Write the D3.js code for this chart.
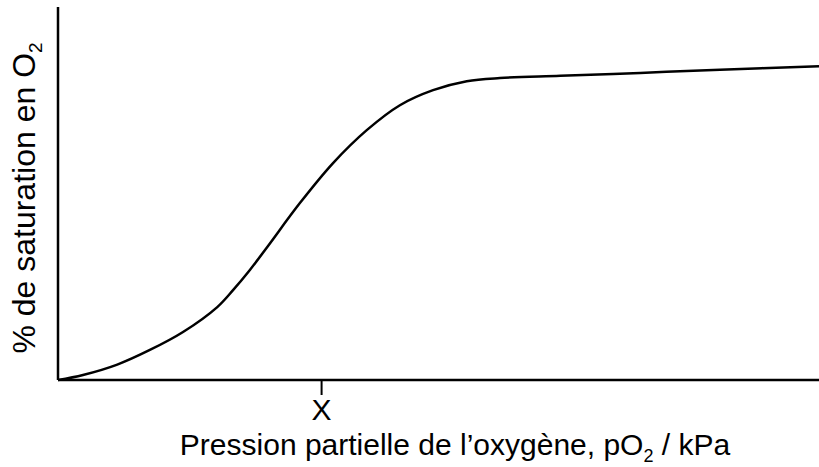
<!DOCTYPE html>
<html>
<head>
<meta charset="utf-8">
<script src="https://cdn.jsdelivr.net/npm/d3@7"></script>
<style>
  html, body { margin: 0; padding: 0; background: #fff; }
  svg { display: block; font-family: "Liberation Sans", Arial, sans-serif; }
</style>
</head>
<body>
<svg id="chart" width="819" height="467"></svg>
<script>
// Data (pO2 in arbitrary kPa units, saturation in %)
const pO2 = [0, 0.46, 1.09, 1.69, 2.30, 2.93, 3.22, 3.53, 3.85, 4.45, 5.06, 5.68, 6.29, 6.90, 7.52, 8.13, 9.24, 10.71, 12.18, 14];
const saturation = [0, 1.56, 4.81, 9.38, 15, 22.8, 28.1, 34.4, 41.6, 55.3, 67.8, 78.1, 85.9, 90.6, 93.4, 94.4, 95.1, 96.0, 97.0, 98.1];
const xTicks = [4.84];
const xTickLabels = ["X"];
const xDomain = [0, 14];
const yDomain = [0, 116.6];

const svg = d3.select("#chart");
const x = d3.scaleLinear().domain(xDomain).range([58, 819]);
const y = d3.scaleLinear().domain(yDomain).range([380, 7]);

// Curve
const line = d3.line()
  .x((d, i) => x(pO2[i]))
  .y((d, i) => y(saturation[i]))
  .curve(d3.curveCatmullRom.alpha(0.5));
svg.append("path")
  .attr("d", line(pO2))
  .attr("fill", "none")
  .attr("stroke", "#000")
  .attr("stroke-width", 2.5);

// Y axis line
svg.append("line")
  .attr("x1", x(0)).attr("x2", x(0))
  .attr("y1", y(yDomain[1])).attr("y2", y(0))
  .attr("stroke", "#000").attr("stroke-width", 2.5);

// X axis
const xAxis = d3.axisBottom(x)
  .tickValues(xTicks)
  .tickSize(15)
  .tickPadding(4)
  .tickFormat((d, i) => xTickLabels[i]);
const gx = svg.append("g").attr("transform", `translate(0,${y(0)})`).call(xAxis);
gx.select(".domain").attr("d", `M${x(0)},0H${x(xDomain[1])}`).attr("stroke-width", 2.5);
gx.selectAll(".tick line").attr("stroke-width", 2);
gx.selectAll(".tick text").attr("font-size", 30).attr("font-family", "Liberation Sans, Arial, sans-serif").attr("fill", "#000");

// X axis title
const xt = svg.append("text")
  .attr("x", 455).attr("y", 455)
  .attr("text-anchor", "middle")
  .attr("font-size", 30).attr("fill", "#000");
xt.append("tspan").text("Pression partielle de l’oxygène, pO");
xt.append("tspan").attr("font-size", 18).attr("dy", 7).text("2");
xt.append("tspan").attr("dy", -7).text(" / kPa");

// Y axis title
const yt = svg.append("text")
  .attr("transform", "translate(35,198) rotate(-90)")
  .attr("text-anchor", "middle")
  .attr("font-size", 32).attr("fill", "#000");
yt.append("tspan").text("% de saturation en O");
yt.append("tspan").attr("font-size", 19).attr("dy", 7).text("2");
</script>
</body>
</html>
